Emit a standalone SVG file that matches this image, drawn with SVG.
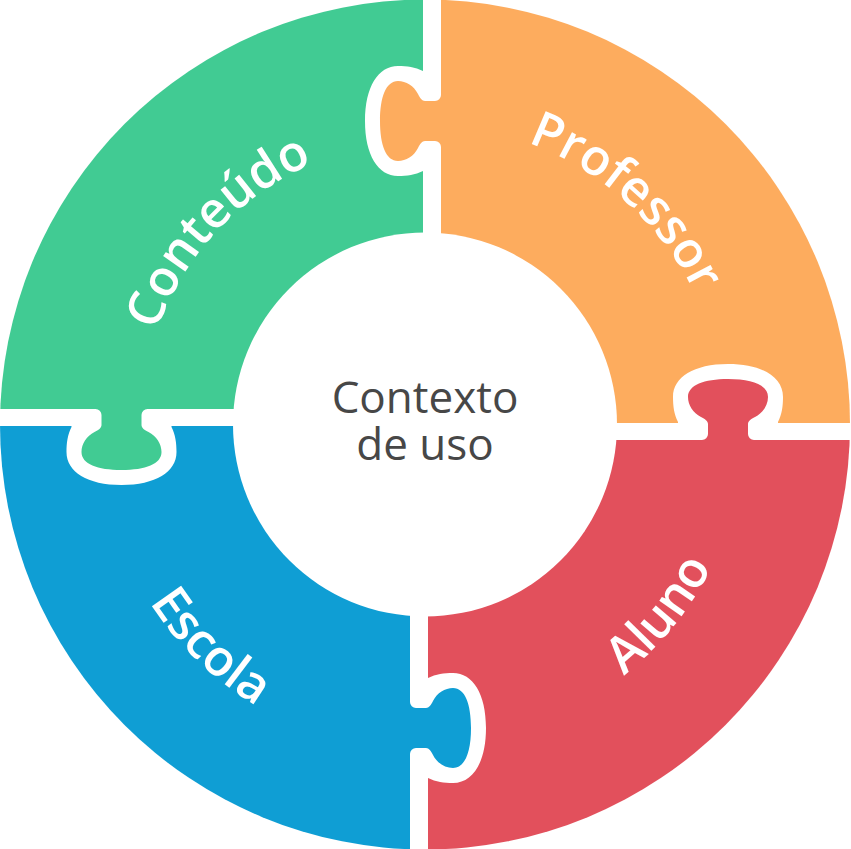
<svg xmlns="http://www.w3.org/2000/svg" width="851" height="849" viewBox="0 0 851 849">
<style>
.lbl{font-family:"Open Sans","Noto Sans","DejaVu Sans",sans-serif;font-weight:600;font-size:50px;fill:#fff}
.ctr{font-family:"Open Sans","Noto Sans","DejaVu Sans",sans-serif;font-size:44px;fill:#474747;text-anchor:middle}
.green{fill:#41CB93}
.orange{fill:#FDAC5E}
.red{fill:#E2505C}
.blue{fill:#0F9ED4}
</style>
<defs>
<clipPath id="outer"><circle cx="425" cy="424.5" r="425"/></clipPath>
<path id="tab" d="M4,-26 L0,-26 A6,6 0 0 1 -6,-20 L-16,-20 C-19,-20 -21,-23 -23,-27 C-27,-35 -35,-40 -43,-40 C-55,-40 -61,-24 -61,0 C-61,24 -55,40 -43,40 C-35,40 -27,35 -23,27 C-21,23 -19,20 -16,20 L-6,20 A6,6 0 0 1 0,26 L4,26 Z"/>
<path id="hole" d="M-18,-50 C-26,-54 -34,-55 -43,-55 C-63,-55 -76,-34 -76,0 C-76,34 -63,55 -43,55 C-34,55 -26,54 -18,50 L-10,50 L-10,-50 Z"/>
<mask id="mGreen" maskUnits="userSpaceOnUse" x="0" y="0" width="851" height="849"><rect width="851" height="849" fill="#fff"/><use href="#hole" transform="translate(441,121)" fill="#000"/></mask>
<mask id="mOrange" maskUnits="userSpaceOnUse" x="0" y="0" width="851" height="849"><rect width="851" height="849" fill="#fff"/><use href="#hole" transform="translate(728,440) rotate(90)" fill="#000"/></mask>
<mask id="mRed" maskUnits="userSpaceOnUse" x="0" y="0" width="851" height="849"><rect width="851" height="849" fill="#fff"/><use href="#hole" transform="translate(410,728) rotate(180)" fill="#000"/></mask>
<mask id="mBlue" maskUnits="userSpaceOnUse" x="0" y="0" width="851" height="849"><rect width="851" height="849" fill="#fff"/><use href="#hole" transform="translate(121.5,409) rotate(-90)" fill="#000"/></mask>
<path id="arcConteudo" d="M153.4,507.6 A284,284 0 0 1 488.9,147.8"/>
<path id="arcProfessor" d="M332.3,139.2 A300,300 0 0 1 718.4,486.9"/>
<path id="arcEscola" d="M97.8,401.6 A328,328 0 0 0 459.3,750.7"/>
<path id="arcAluno" d="M430.6,744.5 A320,320 0 0 0 739.1,363.4"/>
</defs>
<rect width="851" height="849" fill="#fff"/>
<g id="conteudo">
<g clip-path="url(#outer)"><rect x="0" y="0" width="423" height="409" class="green" mask="url(#mGreen)"/></g>
<use href="#tab" transform="translate(121.5,409) rotate(-90)" class="green"/>
<text class="lbl"><textPath href="#arcConteudo" startOffset="50%" text-anchor="middle">Conteúdo</textPath></text>
</g>
<g id="professor">
<g clip-path="url(#outer)"><rect x="441" y="0" width="410" height="423" class="orange" mask="url(#mOrange)"/></g>
<use href="#tab" transform="translate(441,121)" class="orange"/>
<text class="lbl"><textPath href="#arcProfessor" startOffset="50%" text-anchor="middle">Professor</textPath></text>
</g>
<g id="aluno">
<g clip-path="url(#outer)"><rect x="428" y="440" width="423" height="409" class="red" mask="url(#mRed)"/></g>
<use href="#tab" transform="translate(728,440) rotate(90)" class="red"/>
<text class="lbl"><textPath href="#arcAluno" startOffset="50%" text-anchor="middle">Aluno</textPath></text>
</g>
<g id="escola">
<g clip-path="url(#outer)"><rect x="0" y="426" width="410" height="423" class="blue" mask="url(#mBlue)"/></g>
<use href="#tab" transform="translate(410,728) rotate(180)" class="blue"/>
<text class="lbl"><textPath href="#arcEscola" startOffset="50%" text-anchor="middle">Escola</textPath></text>
</g>
<g id="contexto">
<circle cx="425" cy="424.5" r="192" fill="#fff"/>
<text class="ctr" x="425" y="413">Contexto</text>
<text class="ctr" x="425" y="460">de uso</text>
</g>
</svg>
